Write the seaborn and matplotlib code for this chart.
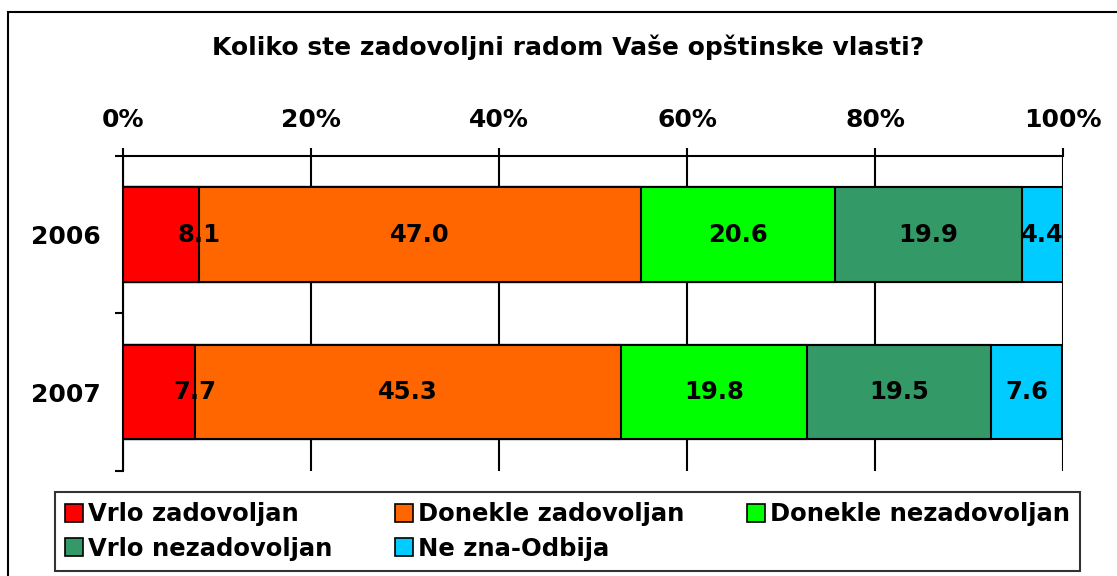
import matplotlib.pyplot as plt
from matplotlib.patches import Patch, Rectangle
from matplotlib.ticker import FixedLocator, PercentFormatter
import numpy as np
import pandas as pd
import seaborn as sns

sns.set_theme(style="white")
plt.rcParams["font.family"] = ["DejaVu Sans"]
plt.rcParams["font.weight"] = "bold"
plt.rcParams["text.color"] = "black"
plt.rcParams["xtick.color"] = "black"
plt.rcParams["ytick.color"] = "black"
plt.rcParams["axes.labelcolor"] = "black"

years = ["2006", "2007"]
answers = ["Vrlo zadovoljan", "Donekle zadovoljan", "Donekle nezadovoljan",
           "Vrlo nezadovoljan", "Ne zna-Odbija"]
values = {
    "2006": [8.1, 47.0, 20.6, 19.9, 4.4],
    "2007": [7.7, 45.3, 19.8, 19.5, 7.6],
}
colors = ["#FF0000", "#FF6600", "#00FF00", "#339966", "#00CCFF"]
title = "Koliko ste zadovoljni radom Vaše opštinske vlasti?"

vals = np.array([values[y] for y in years])
cum = vals.cumsum(axis=1)
df = pd.DataFrame(cum, columns=answers)
df["year"] = years

fig = plt.figure(figsize=(11.17, 5.76), dpi=100)
ax = fig.add_axes([0.1101, 0.1823, 0.8416, 0.5469])

# stacked bars: draw cumulative totals from the largest down
for k in range(len(answers) - 1, -1, -1):
    sns.barplot(data=df, x=answers[k], y="year", orient="h", color=colors[k],
                saturation=1, width=0.6, edgecolor="black", linewidth=1.5,
                ax=ax, zorder=2)

# segment labels
for i, y in enumerate(years):
    for k in range(len(answers)):
        if k == 0:
            xpos = cum[i, k]
        else:
            xpos = cum[i, k] - vals[i, k] / 2
        ax.text(xpos, i, f"{vals[i, k]:.1f}", ha="center", va="center",
                fontsize=17.5, fontweight="bold", color="black", zorder=3)

ax.set_xlim(0, 100)
ax.set_ylim(1.5, -0.5)
ax.set_xlabel("")
ax.set_ylabel("")

ax.xaxis.tick_top()
ax.xaxis.set_major_locator(FixedLocator([0, 20, 40, 60, 80, 100]))
ax.xaxis.set_major_formatter(PercentFormatter(decimals=0))
ax.tick_params(axis="x", which="major", direction="out", length=6, width=1.5,
               color="black", pad=11, labelsize=18, top=True, bottom=False)
ax.tick_params(axis="y", which="major", length=0, pad=16, labelsize=18)
ax.yaxis.set_minor_locator(FixedLocator([-0.5, 0.5, 1.5]))
ax.tick_params(axis="y", which="minor", direction="out", length=6, width=1.5,
               color="black", left=True)
for lab in ax.get_xticklabels() + ax.get_yticklabels():
    lab.set_fontweight("bold")

ax.grid(True, axis="x", color="black", linewidth=1.5, zorder=0)
ax.set_axisbelow(True)
for side in ["right", "bottom"]:
    ax.spines[side].set_visible(False)
for side in ["top", "left"]:
    ax.spines[side].set_visible(True)
    ax.spines[side].set_color("black")
    ax.spines[side].set_linewidth(1.5)

fig.text(0.509, 0.918, title, ha="center", va="center", fontsize=18,
         fontweight="bold")

# legend filled row by row: reorder for matplotlib's column-first layout
order = [0, 3, 1, 4, 2]
handles = [Patch(facecolor=colors[i], edgecolor="black", linewidth=1.2) for i in order]
labels = [answers[i] for i in order]
leg = fig.legend(handles, labels, loc="lower left", ncol=3, mode="expand",
                 bbox_to_anchor=(0.049, 0.009, 0.918, 0.144),
                 bbox_transform=fig.transFigure, fontsize=17.5, frameon=True,
                 fancybox=False, handlelength=0.75, handleheight=0.75,
                 handletextpad=0.2, borderaxespad=0, labelspacing=0.42,
                 borderpad=0.42)
leg.get_frame().set_edgecolor("black")
leg.get_frame().set_linewidth(1.5)
for t in leg.get_texts():
    t.set_fontweight("bold")

fig.patches.append(Rectangle((8 / 1117, -0.1), 1.2, 1 - 12 / 576 + 0.1,
                             transform=fig.transFigure, fill=False,
                             edgecolor="black", linewidth=1.5))

fig.savefig("out.png", dpi=100)
